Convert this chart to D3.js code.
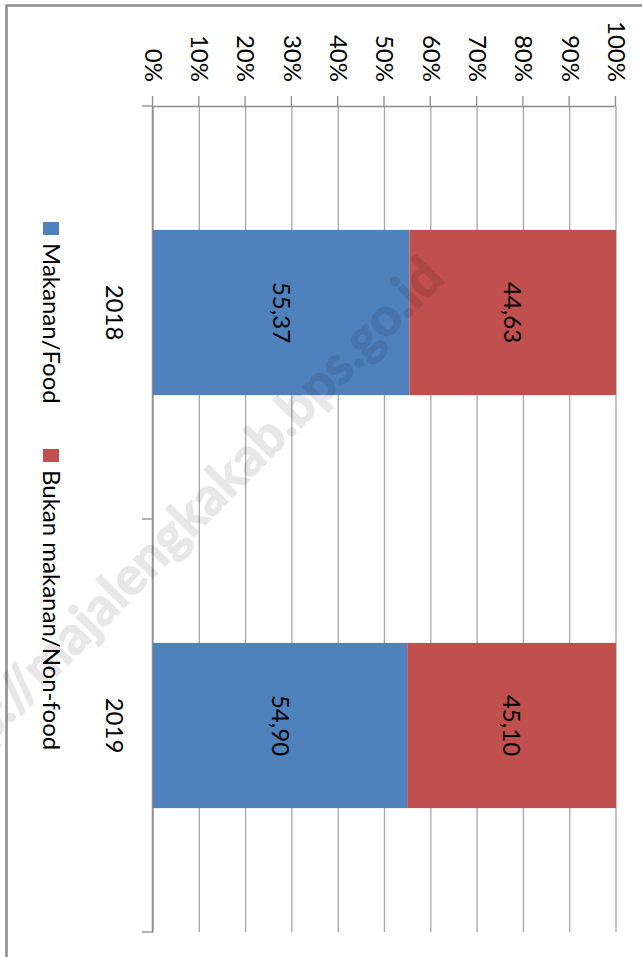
<!DOCTYPE html>
<html lang="en">
<head>
<meta charset="utf-8">
<title>Makanan / Non-food</title>
<script src="https://cdn.jsdelivr.net/npm/d3@7"></script>
<style>
body{margin:0;background:#fff;}
svg text{font-family:Lato,"Open Sans",sans-serif;}
</style>
</head>
<body>
<script>
// data
var years = ["2018", "2019"];
var food = [55.37, 54.90];      // Makanan/Food
var nonFood = [44.63, 45.10];   // Bukan makanan/Non-food
var seriesNames = ["Makanan/Food", "Bukan makanan/Non-food"];
var seriesColors = ["#4F81BD", "#C0504D"];
var valueTicks = [0, 10, 20, 30, 40, 50, 60, 70, 80, 90, 100];

var W = 642, H = 957;
var svg = d3.select("body").append("svg")
  .attr("width", W).attr("height", H);

// outer frame
svg.append("rect")
  .attr("x", 6.5).attr("y", 5.5)
  .attr("width", 700).attr("height", 1000)
  .attr("fill", "none").attr("stroke", "#8c8c8c").attr("stroke-width", 2.5);

// the whole chart is drawn as a column chart and turned 90deg clockwise
var g = svg.append("g").attr("transform", "translate(" + W + ",0) rotate(90)");

var x = d3.scaleBand().domain(years).range([106, 932])
  .paddingInner(0.6).paddingOuter(0.3);
var y = d3.scaleLinear().domain([0, 100]).range([489, 26]);

// gridlines
g.append("g").selectAll("line")
  .data(valueTicks)
  .enter().append("line")
  .attr("x1", 106).attr("x2", 932)
  .attr("y1", function(d){ return y(d); })
  .attr("y2", function(d){ return y(d); })
  .attr("stroke", "#a6a6a6").attr("stroke-width", 1.3);

// stacked bars
var rows = years.map(function(yr, i){ return {year: yr, food: food[i], nonFood: nonFood[i]}; });
var stacked = d3.stack().keys(["food", "nonFood"])(rows);
var fmt = d3.formatLocale({decimal: ",", thousands: ".", grouping: [3], currency: ["", ""]}).format(".2f");

var layers = g.append("g").selectAll("g")
  .data(stacked)
  .enter().append("g")
  .attr("fill", function(d, i){ return seriesColors[i]; });

layers.selectAll("rect")
  .data(function(d){ return d; })
  .enter().append("rect")
  .attr("x", function(d){ return x(d.data.year); })
  .attr("width", x.bandwidth())
  .attr("y", function(d){ return y(d[1]); })
  .attr("height", function(d){ return y(d[0]) - y(d[1]); });

layers.selectAll("text")
  .data(function(d){ return d; })
  .enter().append("text")
  .attr("x", function(d){ return x(d.data.year) + x.bandwidth() / 2; })
  .attr("y", function(d){ return (y(d[0]) + y(d[1])) / 2; })
  .attr("dy", "0.35em")
  .attr("text-anchor", "middle")
  .attr("font-size", "24px")
  .attr("fill", "#000")
  .text(function(d){ return fmt(d[1] - d[0]); });

// value axis
var yAxis = g.append("g")
  .attr("transform", "translate(106,0)")
  .call(d3.axisLeft(y).tickValues(valueTicks).tickSize(10).tickSizeOuter(0).tickPadding(14)
    .tickFormat(function(d){ return d + "%"; }));
yAxis.select(".domain").attr("stroke", "#8c8c8c").attr("stroke-width", 1.5);
yAxis.selectAll(".tick line").attr("stroke", "#8c8c8c").attr("stroke-width", 1.3);
yAxis.selectAll("text").attr("font-size", "24px").attr("fill", "#000").attr("font-family", null);

// category axis
var xAxis = g.append("g")
  .attr("transform", "translate(0,489)")
  .call(d3.axisBottom(x).tickSize(0).tickPadding(30));
xAxis.select(".domain").attr("stroke", "#8c8c8c").attr("stroke-width", 1.5);
xAxis.selectAll("text").attr("font-size", "24px").attr("fill", "#000").attr("font-family", null);
var bounds = years.map(function(yr){ return x(yr) - x.step() * 0.3; }).concat([x.range()[1]]);
xAxis.selectAll("line.bound")
  .data(bounds)
  .enter().append("line")
  .attr("class", "bound")
  .attr("x1", function(d){ return d; }).attr("x2", function(d){ return d; })
  .attr("y1", 0).attr("y2", 11)
  .attr("stroke", "#8c8c8c").attr("stroke-width", 1.3);

// legend
var legendU = [222, 449];
var legend = g.append("g").selectAll("g")
  .data(seriesNames)
  .enter().append("g")
  .attr("transform", function(d, i){ return "translate(" + legendU[i] + ",583)"; });
legend.append("rect")
  .attr("width", 13).attr("height", 16)
  .attr("fill", function(d, i){ return seriesColors[i]; });
legend.append("text")
  .attr("x", 21).attr("y", 8).attr("dy", "0.35em")
  .attr("font-size", "24px")
  .text(function(d){ return d; });

// watermark
svg.append("text")
  .attr("transform", "translate(446,280) rotate(-45.5)")
  .attr("text-anchor", "end")
  .attr("font-size", "53px")
  .attr("font-weight", "bold")
  .attr("font-family", "'Liberation Sans', Arial, sans-serif")
  .attr("fill", "#000").attr("stroke", "#000").attr("stroke-width", 1.5)
  .attr("stroke-linejoin", "round")
  .attr("opacity", 0.09)
  .text("http://majalengkakab.bps.go.id");
</script>
</body>
</html>
